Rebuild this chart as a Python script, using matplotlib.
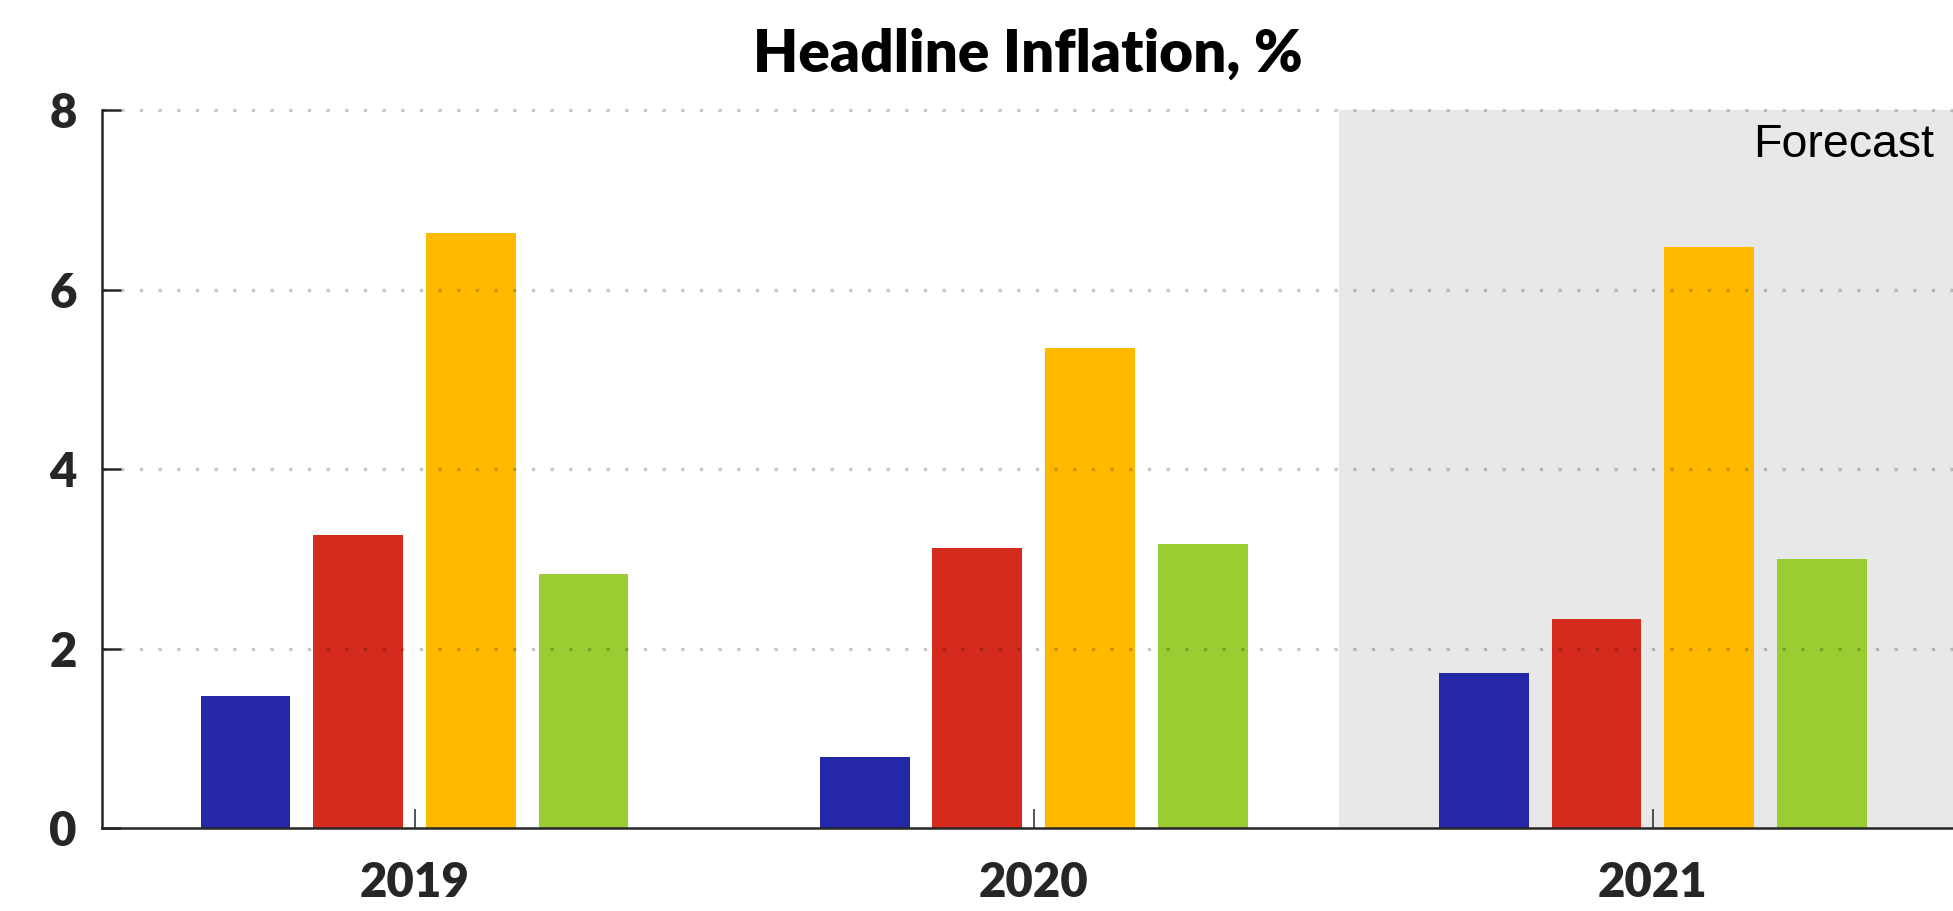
import matplotlib.pyplot as plt
import numpy as np

# data
years = ['2019', '2020', '2021']
blue = [1.47, 0.79, 1.73]
red = [3.27, 3.12, 2.33]
yellow = [6.63, 5.35, 6.48]
green = [2.83, 3.16, 3.00]
yticks = [0, 2, 4, 6, 8]

colors = ['#2327A8', '#D52B1E', '#FFBA00', '#9ACD32']
series = [blue, red, yellow, green]
offsets = [-0.273, -0.091, 0.091, 0.273]
width = 0.145
ink = '#262626'

fig = plt.figure(figsize=(19.53, 9.11), dpi=100)
ax = fig.add_axes([0.0522, 0.0911, 0.9478, 0.7879])

x = np.arange(len(years))

# forecast shading
ax.axvspan(1.493, 2.6, color='#E8E8E8', zorder=0, lw=0)

for vals, off, c in zip(series, offsets, colors):
    ax.bar(x + off, vals, width, color=c, zorder=2)

ax.set_xlim(-0.505, 2.485)
ax.set_ylim(0, 8)

# dotted grid on top of bars
for yv in yticks[1:]:
    ax.axhline(yv, color='black', alpha=0.22, lw=2.4, ls=(0, (1, 4.6)),
               zorder=3, clip_on=False)

ax.spines['top'].set_visible(False)
ax.spines['right'].set_visible(False)
ax.spines['left'].set_color(ink)
ax.spines['bottom'].set_color(ink)
ax.spines['left'].set_linewidth(1.8)
ax.spines['bottom'].set_linewidth(1.8)
ax.spines['left'].set_zorder(4)
ax.spines['bottom'].set_zorder(4)

ax.set_yticks(yticks)
ax.set_yticklabels([str(v) for v in yticks])
ax.set_xticks(x)
ax.set_xticklabels(years)

ax.tick_params(axis='y', direction='in', length=14, width=1.8, color=ink,
               pad=18, labelsize=34, labelcolor=ink)
ax.tick_params(axis='x', direction='in', length=14, width=1.1, color=ink,
               pad=24, labelsize=34, labelcolor=ink)
for lab in ax.get_xticklabels() + ax.get_yticklabels():
    lab.set_family('Lato')
    lab.set_fontweight('heavy')

ax.text(0.9897, 0.982, 'Forecast', transform=ax.transAxes, ha='right', va='top',
        fontsize=33.5, family='Liberation Sans', color='black', zorder=5)

ax.set_title('Headline Inflation, %', fontsize=42, family='Lato',
             fontweight='heavy', color='black', pad=28)

fig.savefig('out.png', dpi=100)
